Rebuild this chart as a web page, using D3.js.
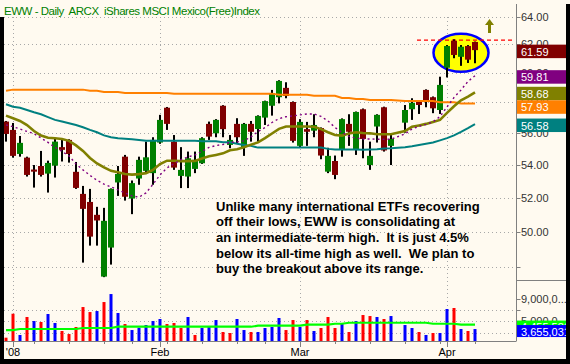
<!DOCTYPE html>
<html>
<head>
<meta charset="utf-8">
<script src="https://cdn.jsdelivr.net/npm/d3@7"></script>
<style>
  body { margin: 0; background: #fffaf0; }
  svg { display: block; font-family: Arial, "Liberation Sans", sans-serif; }
</style>
</head>
<body>
<div id="chart"></div>
<script>
// EWW daily, 31 Dec 2007 - 7 Apr 2008 (Mar 21 left empty, as the source chart does)
const dates = [
  '2007-12-31',
  '2008-01-02','2008-01-03','2008-01-04','2008-01-07','2008-01-08','2008-01-09','2008-01-10','2008-01-11',
  '2008-01-14','2008-01-15','2008-01-16','2008-01-17','2008-01-18','2008-01-22','2008-01-23','2008-01-24',
  '2008-01-25','2008-01-28','2008-01-29','2008-01-30','2008-01-31',
  '2008-02-01','2008-02-04','2008-02-05','2008-02-06','2008-02-07','2008-02-08','2008-02-11','2008-02-12',
  '2008-02-13','2008-02-14','2008-02-15','2008-02-19','2008-02-20','2008-02-21','2008-02-22','2008-02-25',
  '2008-02-26','2008-02-27','2008-02-28','2008-02-29',
  '2008-03-03','2008-03-04','2008-03-05','2008-03-06','2008-03-07','2008-03-10','2008-03-11','2008-03-12',
  '2008-03-13','2008-03-14','2008-03-17','2008-03-18','2008-03-19','2008-03-20','2008-03-21','2008-03-24',
  '2008-03-25','2008-03-26','2008-03-27','2008-03-28','2008-03-31',
  '2008-04-01','2008-04-02','2008-04-03','2008-04-04','2008-04-07'
];

const opens = [56.74,
  56.20,54.67,54.44,53.70,53.92,53.45,53.94,55.10,55.56,53.56,52.22,51.74,50.98,47.49,49.10,52.91,
  54.50,51.94,53.15,53.62,53.48,
  55.39,57.65,55.45,53.31,53.27,53.74,54.09,56.59,55.98,57.78,55.24,56.59,55.10,56.59,56.26,57.00,
  57.78,58.35,58.98,58.03,
  55.18,56.25,56.15,56.32,53.57,54.23,54.93,56.59,54.93,57.55,53.98,56.42,57.68,55.18,null,56.67,
  57.55,58.05,58.84,58.35,57.50,
  60.36,62.26,61.12,61.88,62.17];
const highs = [56.78,
  56.65,55.81,54.50,53.98,54.86,54.25,55.62,55.56,55.60,54.17,52.70,52.52,51.45,51.39,52.55,53.92,
  54.61,53.03,54.50,55.45,55.73,
  57.18,57.70,55.87,55.10,54.82,54.82,55.73,56.74,56.90,57.82,55.87,56.96,56.65,56.78,57.15,58.12,
  58.84,59.50,59.36,58.07,
  56.90,56.72,57.22,56.36,55.06,54.57,56.95,57.22,57.40,57.60,55.45,57.22,57.72,55.98,null,57.83,
  58.28,58.16,58.88,58.40,59.74,
  61.95,62.36,61.95,61.95,62.20];
const lows = [55.45,
  54.44,54.50,53.27,52.60,53.27,52.30,53.21,54.20,54.13,52.52,48.26,49.21,49.21,47.46,48.15,52.10,
  51.82,51.02,52.77,53.48,52.77,
  55.31,56.20,53.68,52.57,52.57,53.48,54.05,55.56,55.73,55.73,55.03,55.35,54.55,55.45,55.45,56.52,
  57.13,57.94,58.28,55.39,
  55.10,55.18,55.73,54.34,53.48,53.11,54.50,55.18,54.61,54.40,53.68,55.39,54.82,53.98,null,56.02,
  56.85,57.24,57.68,57.29,57.24,
  59.69,61.02,60.49,60.69,60.67];
const closes = [55.94,
  54.55,55.37,53.37,53.57,53.37,54.11,55.45,54.93,54.67,52.58,51.33,49.72,50.65,50.63,52.52,53.43,
  52.05,52.87,54.30,54.46,55.56,
  56.85,56.59,53.82,53.68,54.40,54.30,55.67,55.77,56.85,56.25,55.56,55.73,56.59,56.08,57.11,58.09,
  58.62,59.45,58.43,55.50,
  56.72,56.08,56.52,54.57,54.55,53.37,56.90,56.08,57.37,55.62,54.55,57.18,54.89,55.62,null,57.50,
  57.98,57.83,58.05,57.61,59.18,
  61.88,61.25,61.83,60.92,61.59];
const prevClose = 56.90; // Dec 28 close, colours the first volume bar

// volume in millions of shares, and its moving average
const volumes = [2.12,
  6.38,2.60,5.80,5.08,4.91,6.33,4.73,3.31,2.77,4.02,7.57,6.68,6.86,8.46,9.88,6.51,
  4.55,3.48,3.89,4.37,5.08,
  5.44,4.55,4.73,3.84,5.80,2.60,3.84,4.02,5.26,3.13,2.95,5.44,3.48,3.13,3.13,3.84,
  4.02,5.62,3.48,5.26,
  4.02,5.26,3.31,3.84,5.80,3.84,4.73,3.13,5.08,6.15,5.97,5.80,5.44,5.97,null,4.37,
  3.84,3.13,2.60,2.95,2.95,
  7.22,7.40,3.66,3.31,3.655031];
const avgVolume = [3.48,
  3.48,3.66,3.66,3.66,3.66,3.66,3.66,3.66,3.66,3.66,3.84,3.84,3.84,3.84,3.84,4.07,
  4.07,4.07,4.07,4.07,4.07,
  4.07,4.07,4.07,4.07,4.07,4.07,4.07,4.07,4.07,4.07,4.07,4.07,4.07,4.07,4.25,4.25,
  4.25,4.25,4.25,4.25,
  4.25,4.43,4.43,4.43,4.43,4.60,4.60,4.78,4.78,4.78,4.78,4.78,4.78,4.78,null,4.78,
  4.78,4.78,4.78,4.60,4.60,
  4.60,4.60,4.455581,4.455581,4.455581];

// moving averages
const ma10 = [56.52,
  56.41,56.26,56.10,55.96,55.68,55.40,55.08,54.83,54.55,54.04,53.68,53.34,53.04,52.81,52.64,52.46,
  52.28,52.10,52.02,52.28,52.80,
  53.37,53.80,54.06,54.31,54.48,54.61,54.83,55.08,55.20,55.27,55.40,55.43,55.50,55.75,56.10,56.35,
  56.68,56.93,57.06,57.11,
  57.18,57.24,57.24,57.08,56.78,56.36,56.03,55.78,55.67,55.62,55.62,55.60,55.60,55.60,null,55.94,
  56.26,56.43,56.56,56.72,57.07,
  57.70,58.33,58.84,59.42,59.81];
const ma20 = [57.13,
  56.96,56.78,56.51,56.13,55.84,55.70,55.66,55.62,55.50,55.21,54.86,54.42,54.08,53.83,53.62,53.53,
  53.43,53.39,53.42,53.48,53.68,
  54.04,54.25,54.25,54.22,54.22,54.23,54.39,54.52,54.61,54.71,54.90,54.97,55.09,55.26,55.40,55.67,
  55.97,56.27,56.42,56.42,
  56.42,56.42,56.40,56.25,56.05,55.87,55.83,55.97,56.05,56.00,55.98,55.92,55.92,55.92,null,56.13,
  56.40,56.49,56.59,56.72,56.85,
  57.31,57.75,58.14,58.39,58.68];
const ma50 = [57.88,
  57.72,57.65,57.50,57.35,57.22,57.03,56.85,56.74,56.63,56.52,56.37,56.20,56.05,55.85,55.73,55.67,
  55.64,55.60,55.56,55.51,55.51,
  55.51,55.51,55.51,55.51,55.51,55.51,55.48,55.48,55.48,55.41,55.41,55.31,55.24,55.18,55.07,55.07,
  55.07,55.07,55.07,55.07,
  55.07,55.07,55.07,55.07,54.99,54.95,54.95,54.95,54.95,54.93,54.95,54.97,55.01,55.03,null,55.10,
  55.16,55.24,55.31,55.39,55.53,
  55.67,55.85,56.07,56.31,56.58];
const ma200 = [58.79,
  58.86,58.86,58.86,58.86,58.86,58.86,58.86,58.86,58.86,58.86,58.86,58.79,58.79,58.70,58.70,58.70,
  58.64,58.64,58.64,58.64,58.64,
  58.64,58.64,58.59,58.59,58.59,58.59,58.59,58.59,58.59,58.59,58.59,58.59,58.59,58.59,58.59,58.59,
  58.59,58.52,58.52,58.52,
  58.52,58.52,58.45,58.45,58.45,58.45,58.30,58.30,58.23,58.23,58.16,58.16,58.16,58.16,null,58.09,
  58.09,58.09,58.09,58.09,58.01,
  58.01,58.01,57.93,57.93,57.93];

const priceTicks = [64, 62, 60, 58, 56, 54, 52, 50, 48];
const volTicks = [9, 7, 5];
const volLabels = [9, 5];
const volGrid = [7, 5, 3];
const monthTicks = [['2008-01-02', "'08"], ['2008-02-01', 'Feb'], ['2008-03-03', 'Mar'], ['2008-04-01', 'Apr']];
const weekTicks = ['2008-01-07','2008-01-14','2008-01-22','2008-01-28','2008-02-04','2008-02-11',
  '2008-02-19','2008-02-25','2008-03-10','2008-03-17','2008-03-24','2008-03-31','2008-04-07'];
const resistance = 62.3;
const title = 'EWW - Daily  ARCX  iShares MSCI Mexico(Free)Index';
const note = [
  'Unlike many international ETFs recovering',
  'off their lows, EWW is consolidating at',
  'an intermediate-term high.  It is just 4.5%',
  'below its all-time high as well.  We plan to',
  'buy the breakout above its range.'
];

const W = 570, H = 364;
const plotL = 4, plotR = 516.5, volBot = 341;

const svg = d3.select('#chart').append('svg')
    .attr('width', W)
    .attr('height', H);

svg.append('rect').attr('width', W).attr('height', H).attr('fill', '#fffaf0');

const x = d3.scalePoint().domain(dates).range([6, 475]);
const y = d3.scaleLog().domain([48, 64]).range([267.3, 16.7]);
const yVol = d3.scaleLinear().domain([0, 9]).range([349.6, 299]);

// grid
const grid = svg.append('g')
    .attr('stroke', '#a8a8a8')
    .attr('stroke-dasharray', '1,3');
grid.selectAll('.hp').data(priceTicks).enter().append('line')
    .attr('x1', plotL).attr('x2', plotR)
    .attr('y1', d => Math.round(y(d)) + 0.5).attr('y2', d => Math.round(y(d)) + 0.5);
grid.selectAll('.hv').data(volGrid).enter().append('line')
    .attr('x1', plotL).attr('x2', plotR)
    .attr('y1', d => Math.round(yVol(d)) + 0.5).attr('y2', d => Math.round(yVol(d)) + 0.5);
grid.selectAll('.vm').data(monthTicks).enter().append('line')
    .attr('x1', d => x(d[0]) + 0.5).attr('x2', d => x(d[0]) + 0.5)
    .attr('y1', 17).attr('y2', volBot);

// highlight of the consolidation range
svg.append('ellipse')
    .attr('cx', x('2008-04-03'))
    .attr('cy', y(61.4))
    .attr('rx', 27.5)
    .attr('ry', 19)
    .attr('fill', '#ffff00')
    .attr('stroke', '#0000ff')
    .attr('stroke-width', 2.5);

svg.append('line')
    .attr('x1', x('2008-03-26') - 2).attr('x2', plotR - 4)
    .attr('y1', y(resistance)).attr('y2', y(resistance))
    .attr('stroke', '#ff0000')
    .attr('stroke-width', 1.3)
    .attr('stroke-dasharray', '4,3');

// up arrow
const ax = x('2008-04-07') + 14.5, ay = 19;
svg.append('path')
    .attr('d', `M${ax},${ay}L${ax + 4.5},${ay + 6}L${ax + 1.5},${ay + 6}L${ax + 1.5},${ay + 14}L${ax - 1.5},${ay + 14}L${ax - 1.5},${ay + 6}L${ax - 4.5},${ay + 6}Z`)
    .attr('fill', '#808000');

// candles
let last = prevClose;
const bars = [];
dates.forEach((d, i) => {
    if (opens[i] == null) return;
    bars.push({date: d, o: opens[i], h: highs[i], l: lows[i], c: closes[i], v: volumes[i], up: closes[i] >= last});
    last = closes[i];
});

const candle = svg.append('g').selectAll('g')
    .data(bars)
    .enter().append('g');

candle.append('rect')
    .attr('x', d => x(d.date) - 1)
    .attr('width', 2)
    .attr('y', d => y(d.h))
    .attr('height', d => y(d.l) - y(d.h))
    .attr('fill', '#000');

candle.append('rect')
    .attr('x', d => x(d.date) - 3)
    .attr('width', 6)
    .attr('y', d => y(Math.max(d.o, d.c)))
    .attr('height', d => Math.max(1.5, Math.abs(y(d.o) - y(d.c))))
    .attr('fill', d => d.c >= d.o ? '#008000' : '#800000');

// moving averages
function maLine(arr, yScale) {
    const pts = dates.map((d, i) => [d, arr[i]]).filter(p => p[1] != null);
    return d3.line().x(p => x(p[0])).y(p => yScale(p[1]))(pts);
}
const maStyles = [
    [ma200, '#ff8000', 2, null],
    [ma50, '#008080', 2, null],
    [ma20, '#808000', 2.6, null],
    [ma10, '#800080', 1.4, '2,3']
];
maStyles.forEach(([arr, col, w, dash]) => {
    svg.append('path')
        .attr('d', maLine(arr, y))
        .attr('fill', 'none')
        .attr('stroke', col)
        .attr('stroke-width', w)
        .attr('stroke-dasharray', dash);
});

// volume
svg.append('g').selectAll('rect')
    .data(bars)
    .enter().append('rect')
    .attr('x', d => x(d.date) - 1.5)
    .attr('width', 3)
    .attr('y', d => yVol(d.v))
    .attr('height', d => Math.max(0, volBot - yVol(d.v)))
    .attr('fill', d => d.up ? '#0000ff' : '#ff0000');

svg.append('path')
    .attr('d', maLine(avgVolume, yVol))
    .attr('fill', 'none')
    .attr('stroke', '#00ff00')
    .attr('stroke-width', 2.2);

// comment
svg.append('text')
    .attr('font-size', 13)
    .attr('font-weight', 'bold')
    .attr('fill', '#000')
    .selectAll('tspan')
    .data(note)
    .enter().append('tspan')
    .attr('x', 216)
    .attr('y', (d, i) => 210.7 + i * 15.6)
    .style('white-space', 'pre')
    .text(d => d);

// axes
const axis = svg.append('g').attr('stroke', '#808080').attr('fill', 'none');
axis.append('line').attr('x1', plotR).attr('x2', plotR).attr('y1', 4).attr('y2', volBot);
axis.append('line').attr('x1', plotL).attr('x2', plotR).attr('y1', volBot + 0.5).attr('y2', volBot + 0.5);
axis.append('line').attr('x1', plotR).attr('x2', W).attr('y1', 280.5).attr('y2', 280.5);

axis.selectAll('.tp').data(priceTicks).enter().append('line')
    .attr('x1', plotR).attr('x2', plotR + 4)
    .attr('y1', d => Math.round(y(d)) + 0.5).attr('y2', d => Math.round(y(d)) + 0.5);
axis.selectAll('.tv').data(volTicks).enter().append('line')
    .attr('x1', plotR).attr('x2', plotR + 4)
    .attr('y1', d => Math.round(yVol(d)) + 0.5).attr('y2', d => Math.round(yVol(d)) + 0.5);
axis.selectAll('.tm').data(monthTicks).enter().append('line')
    .attr('x1', d => x(d[0]) + 0.5).attr('x2', d => x(d[0]) + 0.5)
    .attr('y1', volBot).attr('y2', volBot + 6);
axis.selectAll('.tw').data(weekTicks).enter().append('line')
    .attr('x1', d => x(d) + 0.5).attr('x2', d => x(d) + 0.5)
    .attr('y1', volBot).attr('y2', volBot + 3);

svg.append('g').selectAll('text')
    .data(priceTicks.filter(d => d > 48))
    .enter().append('text')
    .attr('x', plotR + 4.5)
    .attr('y', d => y(d))
    .attr('dy', '0.36em')
    .attr('font-size', 11)
    .attr('fill', '#333')
    .text(d => d.toFixed(2));

svg.append('g').selectAll('text')
    .data(volLabels)
    .enter().append('text')
    .attr('x', plotR + 4.5)
    .attr('y', d => yVol(d))
    .attr('dy', '0.36em')
    .attr('font-size', 11)
    .attr('fill', '#333')
    .text(d => d3.format(',')(d * 1e6).slice(0, 7) + '...');

svg.append('g').selectAll('text')
    .data(monthTicks)
    .enter().append('text')
    .attr('x', d => x(d[0]))
    .attr('y', 356)
    .attr('text-anchor', 'middle')
    .attr('font-size', 11)
    .attr('fill', '#000')
    .text(d => d[1]);

// last-value boxes on the price axis
const n = dates.length - 1;
const tags = [
    [closes[n], '#800000'],
    [ma10[n], '#800080'],
    [ma20[n], '#808000'],
    [ma200[n], '#ff8000'],
    [ma50[n], '#008080']
].sort((a, b) => b[0] - a[0]);
let prevBottom = -Infinity;
tags.forEach(([v, col]) => {
    const top = Math.max(y(v) - 5.5, prevBottom);
    prevBottom = top + 13.5;
    svg.append('rect').attr('x', plotR + 0.5).attr('y', top).attr('width', W - plotR).attr('height', 13.5).attr('fill', col);
    svg.append('text').attr('x', plotR + 4.5).attr('y', top + 11).attr('font-size', 11).attr('fill', '#fff').text(v.toFixed(2));
});

const volTags = [[avgVolume[n], '#00ff00'], [volumes[n], '#0000ff']];
volTags.forEach(([v, col]) => {
    const top = yVol(v) - 4;
    svg.append('rect').attr('x', plotR + 0.5).attr('y', top).attr('width', W - plotR).attr('height', 12).attr('fill', col);
    svg.append('text').attr('x', plotR + 4.5).attr('y', top + 10.5).attr('font-size', 11).attr('fill', '#fff')
        .text(d3.format(',')(Math.round(v * 1e6)));
});

// frame
svg.append('rect').attr('x', 0).attr('y', 17).attr('width', 4).attr('height', H - 17).attr('fill', '#000');
svg.append('rect').attr('x', 566).attr('y', 4).attr('width', 4).attr('height', H - 4).attr('fill', '#000');
svg.append('rect').attr('x', 0).attr('y', 359).attr('width', W).attr('height', 5).attr('fill', '#000');

svg.append('text')
    .attr('x', 4)
    .attr('y', 15)
    .attr('font-size', 11.5)
    .attr('fill', '#008000')
    .attr('textLength', 256)
    .attr('lengthAdjust', 'spacing')
    .style('white-space', 'pre')
    .text(title);
</script>
</body>
</html>
